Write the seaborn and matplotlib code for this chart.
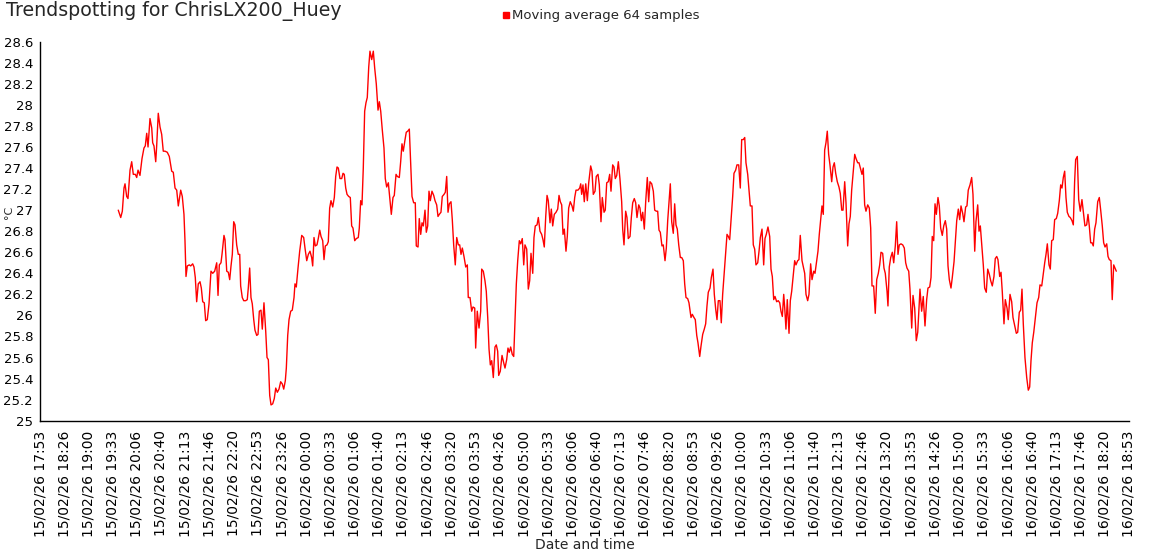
import matplotlib
matplotlib.use("Agg")
import matplotlib.pyplot as plt
import matplotlib.dates as mdates
from matplotlib.lines import Line2D
import numpy as np
import pandas as pd
import seaborn as sns

TITLE = "Trendspotting for ChrisLX200_Huey"
SERIES = "Moving average 64 samples"
START = "2026-02-15 17:53:20"
N_TICKS = 46
TICK_STEP = "2000s"

# minutes after START
minutes = [
    107.8, 111.2, 113.4, 115.7, 117.1, 119.4, 121.2, 124.0, 126.3, 128.5,
    131.3, 133.2, 135.0, 137.7, 140.5, 143.2, 145.0, 147.0, 148.8, 151.5,
    153.9, 155.2, 157.0, 159.4, 160.7, 162.9, 165.3, 167.6, 169.8, 172.2,
    175.3, 178.1, 181.4, 183.6, 186.0, 188.3, 190.5, 193.8, 196.0, 198.3,
    199.7, 201.1, 202.9, 205.6, 207.6, 210.3, 212.1, 213.9, 215.8, 218.0,
    220.4, 222.2, 224.1, 226.3, 228.2, 230.4, 232.8, 235.5, 237.9, 240.6,
    243.4, 245.2, 247.0, 249.3, 250.7, 253.4, 254.8, 257.2, 259.4, 261.3,
    263.1, 264.9, 266.8, 268.6, 270.9, 273.1, 275.1, 276.4, 278.6, 280.6,
    283.3, 285.5, 286.9, 288.8, 290.6, 292.4, 294.4, 296.1, 298.5, 300.3,
    302.1, 304.4, 306.2, 308.5, 310.9, 312.7, 314.5, 316.4, 318.2, 320.5,
    322.7, 324.7, 326.9, 329.2, 331.5, 333.7, 335.7, 337.9, 339.3, 341.2,
    343.0, 345.3, 347.5, 349.9, 351.2, 353.0, 355.4, 357.7, 360.5, 363.2,
    365.0, 367.4, 369.6, 371.9, 374.2, 375.6, 377.4, 379.2, 381.5, 383.3,
    385.3, 387.1, 389.4, 391.2, 393.0, 395.3, 397.1, 399.0, 400.8, 403.2,
    405.4, 407.3, 409.1, 410.9, 413.2, 415.6, 417.4, 419.1, 421.1, 422.9,
    425.2, 427.4, 429.3, 431.1, 433.5, 435.7, 438.4, 439.8, 441.7, 443.5,
    445.3, 447.2, 449.0, 450.8, 452.8, 454.5, 456.9, 459.1, 461.0, 463.2,
    465.6, 467.4, 469.3, 471.5, 473.8, 475.6, 477.5, 479.8, 481.7, 483.9,
    486.2, 488.0, 490.4, 492.2, 494.9, 496.8, 498.6, 500.4, 502.8, 504.5,
    506.5, 508.7, 511.0, 512.4, 514.7, 516.9, 518.3, 520.7, 522.4, 524.4,
    526.2, 528.0, 530.3, 532.1, 534.0, 535.8, 537.6, 539.9, 542.3, 544.1,
    546.4, 548.2, 550.0, 552.3, 554.1, 556.5, 558.3, 560.2, 562.0, 563.8,
    566.1, 567.9, 569.8, 572.0, 574.0, 576.2, 578.1, 579.9, 581.7, 584.0,
    586.4, 588.6, 589.9, 592.3, 594.6, 596.4, 598.8, 600.1, 602.3, 604.7,
    607.0, 608.4, 610.6, 612.9, 614.7, 616.7, 618.5, 620.3, 622.2, 624.4,
    626.7, 628.5, 630.4, 631.8, 634.0, 636.4, 638.7, 640.5, 642.8, 644.6,
    646.4, 648.3, 650.5, 652.5, 654.3, 656.1, 658.0, 660.2, 662.1, 664.3,
    666.3, 668.0, 670.4, 672.6, 674.5, 676.3, 678.7, 680.4, 682.2, 684.6,
    686.4, 688.7, 691.0, 692.8, 694.6, 696.6, 698.4, 700.1, 702.5, 704.3,
    706.2, 708.4, 710.8, 713.1, 714.9, 716.7, 718.6, 720.4, 722.2, 724.5,
    726.3, 728.2, 730.4, 732.8, 734.6, 736.5, 738.3, 741.0, 743.4, 744.8,
    746.1, 747.9, 749.7, 751.7, 753.9, 755.8, 758.5, 760.3, 762.1, 764.5,
    766.2, 768.6, 770.4, 772.7, 774.5, 776.9, 778.6, 780.6, 782.8, 784.7,
    786.5, 788.8, 790.6, 792.4, 794.4, 796.6, 798.8, 801.2, 802.6, 804.4,
    806.7, 808.5, 810.3, 812.7, 814.5, 816.4, 818.6, 820.5, 822.3, 824.7,
    826.4, 828.3, 830.2, 832.4, 834.3, 836.5, 838.4, 840.2, 842.6, 844.8,
    846.7, 848.9, 850.8, 852.6, 854.4, 856.7, 858.5, 860.9, 862.7, 864.6,
    866.4, 868.2, 870.1, 872.3, 874.2, 876.0, 877.8, 879.8, 882.0, 883.9,
    886.1, 888.0, 889.8, 892.1, 893.9, 896.7, 898.5, 900.8, 902.6, 904.6,
    906.3, 908.7, 910.5, 912.8, 915.0, 916.9, 918.7, 920.5, 922.9, 924.7,
    927.0, 928.8, 930.7, 932.5, 934.3, 936.6, 938.4, 940.3, 942.6, 944.5,
    946.3, 948.1, 950.0, 951.8, 954.1, 955.9, 958.2, 960.0, 962.4, 964.6,
    966.5, 968.7, 970.7, 972.4, 974.8, 976.6, 978.4, 980.7, 982.5, 984.4,
    986.2, 988.6, 990.4, 992.2, 994.5, 996.8, 998.6, 1000.4, 1002.7, 1005.1,
    1006.9, 1008.7, 1010.6, 1012.4, 1014.7, 1016.9, 1018.9, 1020.6, 1022.5, 1024.4,
    1025.8, 1027.5, 1029.3, 1031.7, 1033.5, 1035.4, 1037.2, 1039.5, 1041.3, 1043.6,
    1045.4, 1047.2, 1049.6, 1051.4, 1053.3, 1055.1, 1057.4, 1059.2, 1061.5, 1063.4,
    1065.7, 1067.5, 1069.8, 1071.6, 1073.4, 1075.3, 1077.1, 1078.9, 1080.8, 1082.6,
    1084.4, 1086.3, 1088.1, 1090.5, 1092.3, 1094.1, 1096.0, 1098.2, 1100.5, 1102.3,
    1104.3, 1106.1, 1108.4, 1110.2, 1112.5, 1114.3, 1116.1, 1118.0, 1119.8, 1122.2,
    1124.0, 1126.3, 1128.1, 1129.9, 1132.2, 1134.0, 1135.9, 1137.7, 1140.1, 1142.3,
    1144.2, 1146.0, 1148.3, 1150.5, 1152.5, 1154.7, 1156.6, 1158.4, 1160.7, 1162.5,
    1164.3, 1166.7, 1168.0, 1169.8, 1171.8, 1174.0, 1175.9, 1178.1, 1180.0, 1181.8,
    1183.6, 1185.9, 1188.3, 1190.5, 1192.4, 1194.2, 1196.6, 1198.3, 1200.7, 1202.5,
    1204.8, 1207.0, 1209.0, 1212.1,
    1214.4, 1216.6, 1219.0, 1221.3, 1223.1, 1225.5, 1227.3, 1229.0, 1231.0, 1232.8,
    1234.6, 1236.9, 1238.7, 1240.6, 1242.8, 1244.8, 1247.0, 1248.9, 1250.7, 1252.5,
    1254.8, 1256.6, 1259.0, 1260.7, 1262.7, 1264.9, 1266.8, 1268.6, 1270.9, 1272.7,
    1275.0, 1276.8, 1278.6, 1281.0, 1283.3, 1285.1, 1287.5, 1289.2, 1291.6, 1293.4,
    1295.2, 1297.1, 1299.3, 1301.2, 1303.4, 1305.4, 1307.6, 1309.5, 1311.7, 1314.0,
    1315.8, 1317.8, 1319.5, 1321.9, 1323.7, 1325.5, 1327.8, 1329.6, 1332.0, 1333.7,
    1336.1, 1338.4, 1340.2, 1342.6, 1344.8, 1346.7, 1348.9, 1350.8, 1352.6, 1354.4,
    1356.7, 1359.1, 1361.3, 1363.2, 1365.0, 1366.8, 1368.8, 1371.5, 1373.3, 1375.6,
    1377.4, 1379.8, 1382.0, 1383.9, 1385.7, 1387.5, 1389.8, 1391.6, 1393.5, 1395.7,
    1397.6, 1399.9, 1401.8, 1404.0, 1405.9, 1407.7, 1409.5, 1411.4, 1413.2, 1415.0,
    1417.3, 1419.1, 1421.5, 1423.3, 1425.1, 1426.5, 1428.8, 1430.7, 1432.9, 1435.2,
    1437.0, 1439.3, 1441.7, 1443.5, 1445.3, 1447.2, 1449.0, 1450.8, 1452.7, 1454.5,
    1456.9, 1459.1, 1461.0, 1463.2, 1465.1, 1467.0, 1469.3, 1471.1, 1472.9, 1475.2,
    1476.9, 1478.9, 1480.7, 1482.5,
]

temps = [
    27.00, 26.93, 26.99, 27.21, 27.25, 27.13, 27.11, 27.38, 27.46, 27.34,
    27.34, 27.31, 27.38, 27.33, 27.49, 27.59, 27.61, 27.73, 27.60, 27.87,
    27.78, 27.64, 27.61, 27.46, 27.61, 27.92, 27.79, 27.72, 27.56, 27.56,
    27.55, 27.51, 27.37, 27.36, 27.21, 27.19, 27.04, 27.19, 27.13, 26.96,
    26.71, 26.37, 26.47, 26.48, 26.47, 26.49, 26.46, 26.36, 26.13, 26.30,
    26.32, 26.26, 26.13, 26.12, 25.95, 25.96, 26.11, 26.42, 26.40, 26.42,
    26.50, 26.19, 26.48, 26.50, 26.58, 26.76, 26.72, 26.42, 26.41, 26.34,
    26.47, 26.58, 26.89, 26.86, 26.67, 26.58, 26.58, 26.28, 26.17, 26.14,
    26.14, 26.15, 26.26, 26.45, 26.17, 26.11, 25.96, 25.86, 25.81, 25.82,
    26.04, 26.05, 25.87, 26.12, 25.85, 25.60, 25.58, 25.24, 25.15, 25.16,
    25.21, 25.31, 25.27, 25.30, 25.37, 25.35, 25.30, 25.38, 25.50, 25.81,
    25.96, 26.04, 26.05, 26.17, 26.30, 26.27, 26.45, 26.61, 26.76, 26.74,
    26.64, 26.52, 26.58, 26.61, 26.55, 26.47, 26.74, 26.66, 26.67, 26.73,
    26.81, 26.75, 26.71, 26.53, 26.66, 26.67, 26.70, 27.02, 27.09, 27.03,
    27.12, 27.32, 27.41, 27.40, 27.30, 27.30, 27.35, 27.34, 27.21, 27.15,
    27.13, 27.12, 26.85, 26.83, 26.71, 26.73, 26.74, 26.83, 27.09, 27.05,
    27.40, 27.94, 28.02, 28.07, 28.36, 28.51, 28.43, 28.51, 28.35, 28.20,
    27.95, 28.03, 27.94, 27.76, 27.59, 27.30, 27.22, 27.26, 27.12, 26.96,
    27.12, 27.14, 27.34, 27.32, 27.31, 27.46, 27.63, 27.56, 27.67, 27.74,
    27.75, 27.77, 27.37, 27.13, 27.07, 27.07, 26.66, 26.65, 26.92, 26.77,
    26.88, 26.85, 27.00, 26.79, 26.85, 27.18, 27.09, 27.18, 27.14, 27.09,
    27.05, 26.94, 26.96, 26.98, 27.13, 27.15, 27.17, 27.32, 26.98, 27.06,
    27.08, 26.91, 26.67, 26.48, 26.74, 26.67, 26.67, 26.58, 26.64, 26.56,
    26.46, 26.48, 26.17, 26.17, 26.04, 26.08, 26.07, 25.69, 26.04, 25.88,
    26.04, 26.44, 26.42, 26.33, 26.23, 25.98, 25.68, 25.53, 25.57, 25.41,
    25.70, 25.72, 25.66, 25.43, 25.47, 25.62, 25.55, 25.50, 25.58, 25.69,
    25.65, 25.70, 25.63, 25.61, 25.95, 26.30, 26.52, 26.71, 26.68, 26.73,
    26.48, 26.67, 26.63, 26.25, 26.33, 26.59, 26.40, 26.74, 26.85, 26.86,
    26.93, 26.80, 26.77, 26.72, 26.65, 26.94, 27.14, 27.09, 26.88, 27.01,
    26.85, 26.96, 26.98, 27.01, 27.14, 27.08, 27.05, 26.77, 26.82, 26.61,
    26.75, 27.02, 27.08, 27.04, 26.99, 27.12, 27.19, 27.19, 27.21, 27.25,
    27.15, 27.24, 27.08, 27.25, 27.09, 27.26, 27.42, 27.37, 27.15, 27.18,
    27.32, 27.34, 27.24, 26.89, 27.12, 26.98, 27.00, 27.26, 27.27, 27.34,
    27.18, 27.43, 27.41, 27.30, 27.33, 27.46, 27.30, 27.08, 26.82, 26.67,
    26.99, 26.93, 26.73, 26.75, 26.93, 27.07, 27.11, 27.07, 26.93, 27.05,
    27.02, 26.90, 26.98, 26.82, 27.08, 27.31, 27.08, 27.27, 27.25, 27.18,
    27.00, 26.99, 26.99, 26.81, 26.79, 26.66, 26.67, 26.52, 26.64, 26.90,
    27.07, 27.25, 26.89, 26.78, 27.06, 26.86, 26.82, 26.67, 26.55, 26.55,
    26.52, 26.30, 26.17, 26.16, 26.12, 25.98, 26.01, 25.98, 25.96, 25.81,
    25.74, 25.61, 25.71, 25.82, 25.87, 25.92, 26.09, 26.22, 26.26, 26.36,
    26.44, 26.20, 26.06, 25.96, 26.14, 26.14, 25.93, 26.20, 26.42, 26.61,
    26.77, 26.75, 26.72, 26.90, 27.13, 27.35, 27.38, 27.43, 27.43, 27.21,
    27.67, 27.67, 27.69, 27.45, 27.34, 27.19, 27.04, 27.04, 26.67, 26.63,
    26.48, 26.50, 26.61, 26.74, 26.82, 26.48, 26.73, 26.77, 26.84, 26.75,
    26.44, 26.37, 26.15, 26.18, 26.13, 26.14, 26.12, 26.04, 25.99, 26.20,
    26.07, 25.87, 26.15, 25.83, 26.14, 26.23, 26.36, 26.52, 26.48, 26.52,
    26.53, 26.76, 26.52, 26.46, 26.40, 26.20, 26.14, 26.20, 26.49, 26.34,
    26.42, 26.40, 26.52, 26.61, 26.77, 26.91, 27.04, 26.96, 27.57, 27.64,
    27.75, 27.53, 27.43, 27.27, 27.41, 27.45, 27.35, 27.27, 27.22, 27.16,
    27.00, 27.00, 27.27, 27.07, 26.66, 26.87, 26.94, 27.19, 27.34, 27.53,
    27.49, 27.45, 27.45, 27.40, 27.34, 27.40, 27.05, 26.99, 27.05, 27.02,
    26.83, 26.28, 26.28, 26.02, 26.34, 26.40, 26.48, 26.60, 26.59, 26.45,
    26.40, 26.23, 26.09, 26.46, 26.55, 26.60, 26.50, 26.66, 26.89, 26.58,
    26.67, 26.68, 26.67, 26.64, 26.50, 26.45, 26.42, 26.25, 25.88, 26.19,
    26.07, 25.76, 25.84, 26.25,
    26.04, 26.18, 25.90, 26.15, 26.26, 26.27, 26.36, 26.75, 26.71, 27.06,
    26.96, 27.12, 27.04, 26.83, 26.76, 26.85, 26.90, 26.82, 26.47, 26.34,
    26.26, 26.36, 26.51, 26.69, 26.90, 27.01, 26.91, 27.04, 26.97, 26.89,
    27.03, 27.04, 27.19, 27.24, 27.31, 27.15, 26.61, 26.89, 27.05, 26.80,
    26.85, 26.68, 26.48, 26.26, 26.22, 26.44, 26.39, 26.33, 26.28, 26.37,
    26.54, 26.56, 26.53, 26.37, 26.41, 26.22, 25.92, 26.15, 26.07, 25.96,
    26.20, 26.13, 25.98, 25.90, 25.83, 25.84, 26.03, 26.05, 26.25, 25.92,
    25.60, 25.41, 25.29, 25.32, 25.57, 25.74, 25.84, 26.01, 26.12, 26.17,
    26.29, 26.28, 26.40, 26.50, 26.58, 26.68, 26.48, 26.44, 26.71, 26.72,
    26.91, 26.92, 26.97, 27.09, 27.24, 27.21, 27.31, 27.37, 27.12, 26.98,
    26.94, 26.93, 26.90, 26.86, 27.27, 27.48, 27.51, 27.10, 26.99, 27.10,
    26.99, 26.85, 26.86, 26.96, 26.85, 26.69, 26.69, 26.66, 26.82, 26.88,
    27.08, 27.12, 27.00, 26.85, 26.69, 26.65, 26.68, 26.56, 26.53, 26.52,
    26.15, 26.48, 26.45, 26.42,
]

y_ticks = [25, 25.2, 25.4, 25.6, 25.8, 26, 26.2, 26.4, 26.6, 26.8, 27,
           27.2, 27.4, 27.6, 27.8, 28, 28.2, 28.4, 28.6]

times = pd.Timestamp(START) + pd.to_timedelta(minutes, unit="min")
df = pd.DataFrame({"time": times, "temp": temps})
tick_times = pd.date_range(START, periods=N_TICKS, freq=TICK_STEP)

sns.set_style("white")
plt.rcParams["font.family"] = ["DejaVu Sans"]

fig = plt.figure(figsize=(11.5, 5.6), dpi=100)
ax = fig.add_axes([40 / 1150, 1 - 420.7 / 560, 1089 / 1150, 379 / 560])

sns.lineplot(data=df, x="time", y="temp", ax=ax, color="red",
             linewidth=1.0, estimator=None, sort=False, legend=False)

ax.set_xlim(mdates.date2num(tick_times[0]), mdates.date2num(tick_times[-1]))
ax.set_xticks(mdates.date2num(tick_times))
ax.set_xticklabels([t.strftime("%d/%m/%y %H:%M") for t in tick_times],
                   rotation=90, fontsize=10)
ax.set_ylim(25, 28.6)
ax.set_yticks(y_ticks)
ax.set_yticklabels([f"{v:g}" for v in y_ticks], fontsize=9.5)

ax.tick_params(axis="y", direction="inout", length=6, width=1, pad=2, colors="black")
ax.tick_params(axis="x", direction="out", length=4, width=1, pad=3, colors="black")
for side in ["top", "right"]:
    ax.spines[side].set_visible(False)
for side in ["left", "bottom"]:
    ax.spines[side].set_color("black")
    ax.spines[side].set_linewidth(1)

# unit label squeezed into the left margin, next to the tick labels
ax.set_xlabel("")
ax.set_ylabel("°C", fontsize=8)
ax.yaxis.set_label_coords(-0.0235, 0.55)

fig.text(585 / 1150, 1 - 545 / 560, "Date and time", ha="center", va="center", fontsize=10)
fig.text(6 / 1150, 1 - 1 / 560, TITLE, ha="left", va="top", fontsize=13.7)

handle = Line2D([0], [0], marker="s", color="red", linestyle="none", markersize=5)
fig.legend([handle], [SERIES], loc="upper center", bbox_to_anchor=(600 / 1150, 1.0),
           frameon=False, fontsize=9.5, handletextpad=0.1, handlelength=0.8,
           borderaxespad=0.3)

fig.savefig("out.png", dpi=100)
